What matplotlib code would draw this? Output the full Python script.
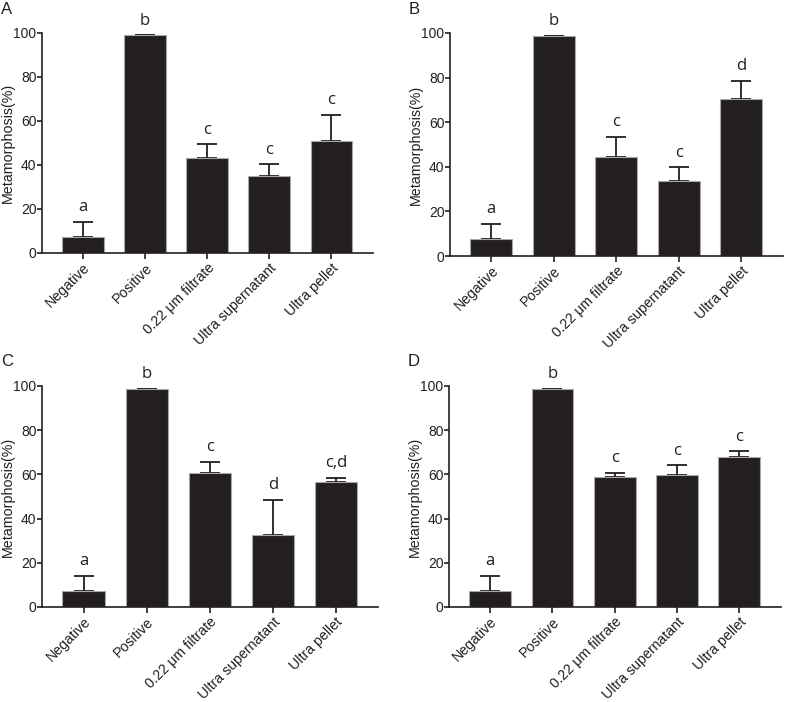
import matplotlib
matplotlib.use("Agg")
import matplotlib.pyplot as plt

plt.rcParams['font.family'] = ['Liberation Sans', 'DejaVu Sans']

# groups on the x axis
groups = ['Negative', 'Positive', '0.22 \u03bcm filtrate', 'Ultra supernatant', 'Ultra pellet']

# mean metamorphosis (%) per panel
mean_a = [7.3, 98.9, 43.2, 34.8, 50.8]
mean_b = [7.5, 98.8, 44.6, 33.6, 70.4]
mean_c = [7.3, 98.7, 60.6, 32.8, 56.6]
mean_d = [7.3, 98.7, 58.7, 59.7, 68.0]

# upper error (SD) per panel
err_a = [6.8, 0.0, 6.3, 5.6, 12.0]
err_b = [6.8, 0.0, 8.7, 6.1, 8.0]
err_c = [6.9, 0.0, 5.1, 15.6, 1.9]
err_d = [6.9, 0.0, 2.1, 4.4, 2.4]

# significance letters
sig_a = ['a', 'b', 'c', 'c', 'c']
sig_b = ['a', 'b', 'c', 'c', 'd']
sig_c = ['a', 'b', 'c', 'd', 'c,d']
sig_d = ['a', 'b', 'c', 'c', 'c']

panels = [
    ('A', mean_a, err_a, sig_a, [42, 33, 373, 253]),
    ('B', mean_b, err_b, sig_b, [450, 33, 783, 256]),
    ('C', mean_c, err_c, sig_c, [42, 386, 378, 607]),
    ('D', mean_d, err_d, sig_d, [449, 386, 781, 607]),
]

W, H = 787, 702
dark = '#231f20'

fig = plt.figure(figsize=(W / 100, H / 100), dpi=100)

for name, means, errs, sig, (x0, y0, x1, y1) in panels:
    ax = fig.add_axes([x0 / W, 1 - y1 / H, (x1 - x0) / W, (y1 - y0) / H])
    xs = list(range(len(groups)))
    ax.bar(xs, means, width=0.67, color=dark, edgecolor='#a8a8a8', linewidth=0.8, zorder=2)
    # only the upper half of the error bar
    ax.errorbar(xs, means, yerr=[[0] * len(errs), errs], fmt='none', ecolor=dark,
                elinewidth=1.3, capsize=7, capthick=1.3, zorder=1)
    for x, m, e, s in zip(xs, means, errs, sig):
        ax.text(x, m + e + 3.0, s, ha='center', va='bottom', fontsize=12,
                family=['Open Sans', 'DejaVu Sans'], color=dark, clip_on=False)

    ax.set_xlim(-0.66, 4.67)
    ax.set_ylim(0, 100)
    ax.set_yticks([0, 20, 40, 60, 80, 100])
    ax.set_xticks(xs)
    ax.set_xticklabels(groups, rotation=45, ha='right', rotation_mode='anchor', fontsize=10.2)
    ax.tick_params(axis='y', labelsize=10, length=3.5, width=1.2, color=dark, labelcolor=dark, pad=0.5)
    ax.tick_params(axis='x', length=4, width=1.2, color=dark, labelcolor=dark, pad=1.5)
    ax.set_ylabel('Metamorphosis(%)', fontsize=10.3, color=dark)
    # y label sits just left of the tick labels, near the panel's left edge
    ax.yaxis.set_label_coords(-27 / (x1 - x0), 0.5)
    for sp in ['top', 'right']:
        ax.spines[sp].set_visible(False)
    for sp in ['left', 'bottom']:
        ax.spines[sp].set_linewidth(1.2)
        ax.spines[sp].set_color(dark)

    # panel letter in the top left corner of each quarter
    fig.text((x0 - 41) / W, 1 - (y0 - 24) / H, name, fontsize=12, color=dark,
             ha='left', va='center')

fig.savefig('out.png', dpi=100, facecolor='white')
